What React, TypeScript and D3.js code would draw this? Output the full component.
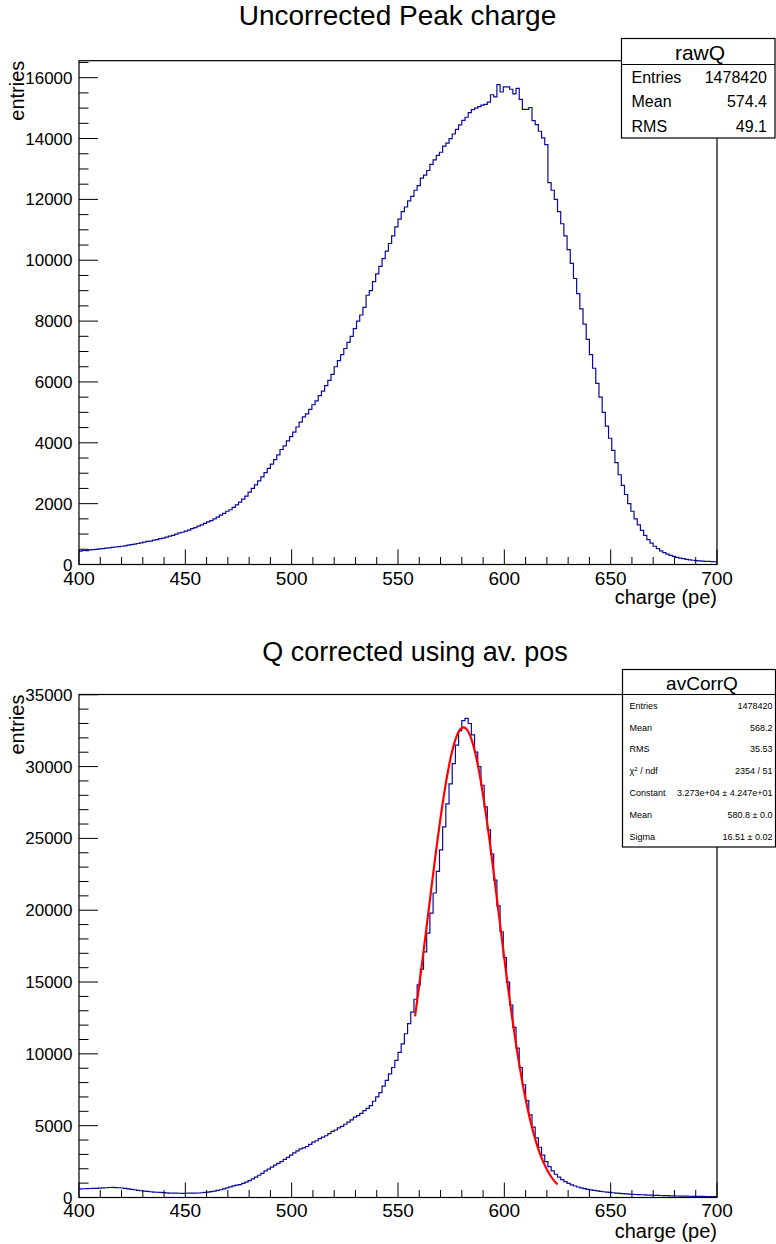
import React from "react";
import * as d3 from "d3";

// Histogram binning: 200 bins of 1.5 pe from 400 to 700 pe
const X_MIN = 400;
const X_MAX = 700;
const BIN_WIDTH = 1.5;

// Uncorrected peak charge (rawQ), counts per bin
const rawQCounts: number[] = [
  440, 460, 455, 480, 490, 495, 515, 520, 540, 545,
  560, 575, 590, 600, 615, 640, 650, 670, 690, 710,
  735, 760, 770, 800, 820, 850, 870, 900, 930, 960,
  1000, 1040, 1060, 1100, 1130, 1180, 1210, 1260, 1300, 1350,
  1400, 1440, 1500, 1560, 1620, 1680, 1750, 1800, 1880, 1960,
  2050, 2150, 2250, 2380, 2500, 2620, 2750, 2880, 3020, 3160,
  3300, 3450, 3600, 3780, 3900, 4060, 4200, 4350, 4520, 4680,
  4850, 4950, 5100, 5250, 5380, 5550, 5700, 5880, 6050, 6250,
  6500, 6700, 6900, 7100, 7300, 7500, 7750, 8000, 8200, 8450,
  8850, 9000, 9300, 9550, 9800, 10050, 10300, 10550, 10800, 11100,
  11350, 11600, 11750, 11950, 12100, 12300, 12450, 12700, 12800, 12950,
  13150, 13300, 13450, 13550, 13750, 13850, 14000, 14150, 14300, 14450,
  14600, 14700, 14850, 14950, 15000, 15050, 15100, 15120, 15200, 15440,
  15370, 15770, 15530, 15700, 15700, 15620, 15470, 15650, 15290, 14960,
  14960, 15020, 14590, 14460, 14240, 14020, 13800, 12550, 12300, 12000,
  11600, 11200, 10800, 10350, 9900, 9400, 8900, 8400, 7900, 7400,
  6900, 6450, 5950, 5500, 5000, 4550, 4150, 3750, 3350, 2950,
  2600, 2300, 2000, 1750, 1500, 1300, 1120, 960, 820, 700,
  600, 520, 450, 390, 340, 300, 265, 235, 210, 190,
  170, 155, 140, 130, 120, 112, 105, 100, 95, 90,
];

// Charge corrected using average position (avCorrQ), counts per bin
const avCorrQCounts: number[] = [
  600, 610, 615, 625, 630, 640, 650, 665, 680, 695,
  700, 690, 680, 660, 630, 600, 570, 540, 500, 470,
  440, 420, 400, 380, 365, 350, 335, 320, 310, 305,
  300, 295, 290, 295, 300, 300, 305, 315, 330, 350,
  380, 410, 450, 490, 540, 600, 670, 740, 810, 860,
  900, 980, 1070, 1180, 1300, 1420, 1550, 1680, 1850, 1980,
  2120, 2250, 2380, 2500, 2650, 2800, 2950, 3100, 3250, 3380,
  3450, 3550, 3700, 3850, 3950, 4100, 4200, 4300, 4450, 4600,
  4700, 4850, 4950, 5100, 5250, 5400, 5600, 5700, 5850, 6050,
  6200, 6400, 6700, 7000, 7300, 7750, 8150, 8600, 9050, 9550,
  10100, 10700, 11400, 12100, 12900, 13800, 14800, 15900, 17100, 18400,
  19800, 21200, 22700, 24200, 25800, 27400, 28800, 30200, 31500, 32500,
  33200, 33350, 33000, 32200, 31000, 30000, 28700, 27200, 25600, 23900,
  22100, 20300, 18500, 16700, 15000, 13400, 11850, 10400, 9050, 7850,
  6750, 5750, 4900, 4150, 3500, 2950, 2500, 2150, 1850, 1620,
  1420, 1240, 1100, 980, 880, 800, 730, 670, 620, 570,
  530, 490, 460, 430, 400, 375, 350, 330, 310, 290,
  270, 255, 240, 225, 210, 200, 190, 180, 170, 160,
  152, 145, 138, 130, 124, 118, 112, 106, 100, 96,
  92, 88, 84, 80, 76, 72, 68, 65, 62, 60,
];

// Axis ticks
const xMajorTicks = [400, 450, 500, 550, 600, 650, 700];
const rawQMajorTicks = [0, 2000, 4000, 6000, 8000, 10000, 12000, 14000, 16000];
const avCorrQMajorTicks = [0, 5000, 10000, 15000, 20000, 25000, 30000, 35000];

// Stat box contents
const rawQStatLabels = ["Entries", "Mean", "RMS"];
const rawQStatValues = ["1478420", "574.4", "49.1"];
const avCorrQStatLabels = ["Entries", "Mean", "RMS", "chi2", "Constant", "Mean", "Sigma"];
const avCorrQStatValues = [
  "1478420",
  "568.2",
  "35.53",
  "2354 / 51",
  "3.273e+04 \u00b1 4.247e+01",
  "580.8 \u00b1 0.0",
  "16.51 \u00b1 0.02",
];

// Gaussian fit of avCorrQ
const fitConstant = 32730;
const fitMean = 580.8;
const fitSigma = 16.51;
const fitRange = [558, 625];

const FONT = "'Liberation Sans', Arial, Helvetica, sans-serif";
const HIST_COLOR = "#0a0a9c";

type PadProps = {
  title: string;
  titleX: number;
  titleY: number;
  titleSize: number;
  top: number;
  bottom: number;
  counts: number[];
  yMajor: number[];
  yMinorStep: number;
  xLabelY: number;
  xTitleY: number;
  fit?: boolean;
};

const LEFT = 79;
const RIGHT = 717;

function Pad({ title, titleX, titleY, titleSize, top, bottom, counts, yMajor, yMinorStep, xLabelY, xTitleY, fit }: PadProps) {
  const yMax = 1.05 * (d3.max(counts) as number);
  const x = d3.scaleLinear().domain([X_MIN, X_MAX]).range([LEFT, RIGHT]);
  const y = d3.scaleLinear().domain([0, yMax]).range([bottom, top]);

  const pts: [number, number][] = counts.map((c, i) => [X_MIN + i * BIN_WIDTH, c]);
  pts.push([X_MAX, counts[counts.length - 1]]);
  const histPath = d3
    .line<[number, number]>()
    .x((d) => x(d[0]))
    .y((d) => y(d[1]))
    .curve(d3.curveStepAfter)(pts) as string;

  let fitPath: string | null = null;
  if (fit) {
    const xs = d3.range(fitRange[0], fitRange[1] + 0.01, 0.5);
    fitPath = d3
      .line<number>()
      .x((v) => x(v))
      .y((v) => y(fitConstant * Math.exp(-0.5 * ((v - fitMean) / fitSigma) ** 2)))
      .curve(d3.curveLinear)(xs) as string;
  }

  const xMinor = d3.range(X_MIN, X_MAX + 0.1, 10).filter((v) => v % 50 !== 0);
  const yMinor = d3.range(0, yMax, yMinorStep).filter((v) => !yMajor.includes(v));

  return (
    <g>
      <text x={titleX} y={titleY} textAnchor="middle" fontSize={titleSize} fontFamily={FONT} fill="#000">
        {title}
      </text>
      <defs>
        <clipPath id={`clip-${Math.round(top)}`}>
          <rect x={LEFT} y={top} width={RIGHT - LEFT} height={bottom - top} />
        </clipPath>
      </defs>
      <g clipPath={`url(#clip-${Math.round(top)})`}>
        <path d={histPath} fill="none" stroke={HIST_COLOR} strokeWidth={1.2} />
        {fitPath && <path d={fitPath} fill="none" stroke="#ff0000" strokeWidth={2.2} />}
      </g>
      <rect x={LEFT} y={top} width={RIGHT - LEFT} height={bottom - top} fill="none" stroke="#000" strokeWidth={1.2} />
      {/* x axis ticks */}
      {xMajorTicks.map((t) => (
        <g key={`xm${t}`}>
          <line x1={x(t)} x2={x(t)} y1={bottom} y2={bottom - 15} stroke="#000" strokeWidth={1} />
          <text x={x(t)} y={xLabelY} textAnchor="middle" fontSize={19} fontFamily={FONT} fill="#000">
            {t}
          </text>
        </g>
      ))}
      {xMinor.map((t) => (
        <line key={`xn${t}`} x1={x(t)} x2={x(t)} y1={bottom} y2={bottom - 7.5} stroke="#000" strokeWidth={1} />
      ))}
      {/* y axis ticks */}
      {yMajor.map((t) => (
        <g key={`ym${t}`}>
          <line x1={LEFT} x2={LEFT + 19} y1={y(t)} y2={y(t)} stroke="#000" strokeWidth={1} />
          <text x={72.5} y={y(t) + 6} textAnchor="end" fontSize={17} fontFamily={FONT} fill="#000">
            {t}
          </text>
        </g>
      ))}
      {yMinor.map((t) => (
        <line key={`yn${t}`} x1={LEFT} x2={LEFT + 9.5} y1={y(t)} y2={y(t)} stroke="#000" strokeWidth={1} />
      ))}
      <text x={RIGHT} y={xTitleY} textAnchor="end" fontSize={20} fontFamily={FONT} fill="#000">
        charge (pe)
      </text>
      <text
        transform={`translate(24,${top}) rotate(-90)`}
        textAnchor="end"
        fontSize={20}
        fontFamily={FONT}
        fill="#000"
      >
        entries
      </text>
    </g>
  );
}

function RawQStats() {
  const x0 = 621.5;
  const x1 = 775;
  const y0 = 38.5;
  const ySep = 64.5;
  const y1 = 138;
  const rowH = (y1 - ySep) / rawQStatLabels.length;
  return (
    <g fontFamily={FONT} fill="#000">
      <rect x={x0} y={y0} width={x1 - x0} height={y1 - y0} fill="#fff" stroke="#000" strokeWidth={1.2} />
      <line x1={x0} x2={x1} y1={ySep} y2={ySep} stroke="#000" strokeWidth={1.2} />
      <text x={700} y={59.5} textAnchor="middle" fontSize={21}>
        rawQ
      </text>
      {rawQStatLabels.map((l, i) => (
        <g key={l}>
          <text x={631.5} y={ySep + rowH * (i + 0.5) + 6} fontSize={16}>
            {l}
          </text>
          <text x={767} y={ySep + rowH * (i + 0.5) + 6} fontSize={16} textAnchor="end">
            {rawQStatValues[i]}
          </text>
        </g>
      ))}
    </g>
  );
}

function AvCorrQStats() {
  const x0 = 622.5;
  const x1 = 775.5;
  const y0 = 669.5;
  const ySep = 694.5;
  const y1 = 847;
  const rowH = (y1 - ySep) / avCorrQStatLabels.length;
  return (
    <g fontFamily={FONT} fill="#000">
      <rect x={x0} y={y0} width={x1 - x0} height={y1 - y0} fill="#fff" stroke="#000" strokeWidth={1.2} />
      <line x1={x0} x2={x1} y1={ySep} y2={ySep} stroke="#000" strokeWidth={1.2} />
      <text x={702} y={689.5} textAnchor="middle" fontSize={19}>
        avCorrQ
      </text>
      {avCorrQStatLabels.map((l, i) => {
        const by = ySep + rowH * (i + 0.5) + 3.5;
        return (
          <g key={`${l}${i}`}>
            <text x={629.5} y={by} fontSize={9}>
              {l === "chi2" ? (
                <>
                  {"\u03c7"}
                  <tspan fontSize={6.2} dy={-3.5}>
                    2
                  </tspan>
                  <tspan dy={3.5}>{" / ndf"}</tspan>
                </>
              ) : (
                l
              )}
            </text>
            <text x={772.5} y={by} fontSize={9} textAnchor="end">
              {avCorrQStatValues[i]}
            </text>
          </g>
        );
      })}
    </g>
  );
}

export default function App() {
  return (
    <svg
      width={776}
      height={1244}
      style={{ position: "absolute", left: 0, top: 0, background: "#fff" }}
    >
      <rect x={0} y={0} width={776} height={1244} fill="#fff" />
      <Pad
        title="Uncorrected Peak charge"
        titleX={397.5}
        titleY={25}
        titleSize={28}
        top={60.7}
        bottom={564.5}
        counts={rawQCounts}
        yMajor={rawQMajorTicks}
        yMinorStep={500}
        xLabelY={585}
        xTitleY={604}
      />
      <RawQStats />
      <Pad
        title="Q corrected using av. pos"
        titleX={415}
        titleY={661}
        titleSize={27}
        top={694.5}
        bottom={1197.5}
        counts={avCorrQCounts}
        yMajor={avCorrQMajorTicks}
        yMinorStep={1000}
        xLabelY={1217}
        xTitleY={1238}
        fit
      />
      <AvCorrQStats />
    </svg>
  );
}
